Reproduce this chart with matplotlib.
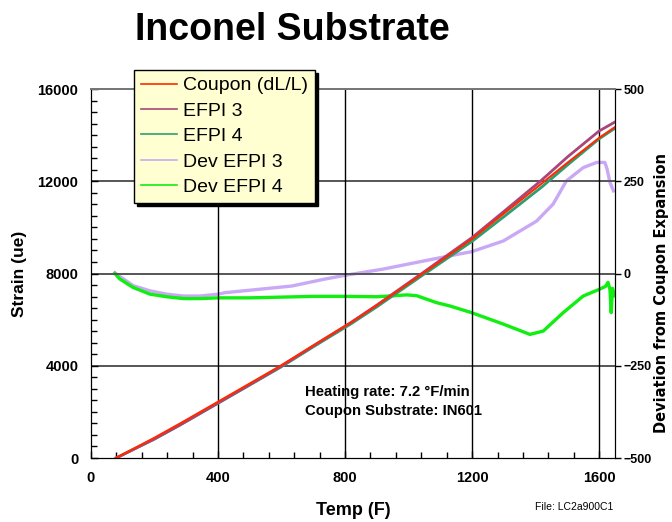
import matplotlib
matplotlib.use("Agg")
import matplotlib.pyplot as plt
from matplotlib.ticker import MultipleLocator

plt.rcParams['font.family'] = ['Liberation Sans', 'DejaVu Sans']

# strain curves (left axis)
temp = [79, 200, 281, 400, 500, 597, 700, 819, 900, 1045, 1200, 1300, 1419, 1500, 1600, 1650]
coupon = [0, 880, 1500, 2440, 3230, 4000, 4880, 5880, 6620, 8000, 9500, 10600, 11900, 12800, 13880, 14350]
efpi3 = [0, 830, 1440, 2385, 3185, 3965, 4860, 5880, 6630, 8035, 9560, 10690, 12050, 13050, 14180, 14570]
efpi4 = [0, 820, 1435, 2375, 3165, 3935, 4820, 5820, 6555, 7935, 9395, 10460, 11745, 12700, 13840, 14300]

# deviation curves (right axis)
temp_d3 = [75, 91, 133, 186, 238, 291, 343, 400, 422, 527, 632, 737, 800, 920, 1025, 1130,
           1198, 1298, 1403, 1455, 1497, 1550, 1592, 1618, 1625, 1634, 1645]
dev3 = [2, -8, -33, -47, -56, -61, -61, -56, -52, -43, -34, -15, -5, 12, 30, 48,
        59, 88, 142, 188, 251, 287, 301, 301, 283, 247, 224]
temp_d4 = [75, 91, 133, 186, 238, 291, 343, 400, 500, 600, 700, 800, 900, 994, 1025, 1088,
           1130, 1198, 1298, 1382, 1424, 1487, 1550, 1600, 1620, 1628, 1634, 1638, 1642, 1648]
dev4 = [0, -15, -38, -56, -63, -68, -68, -66, -66, -64, -62, -62, -63, -58, -60, -79,
        -88, -106, -137, -165, -156, -106, -61, -43, -35, -24, -43, -106, -40, -60]

labels = ['Coupon (dL/L)', 'EFPI 3', 'EFPI 4', 'Dev EFPI 3', 'Dev EFPI 4']
colors = ['#ff2a00', '#a8457a', '#2e9e70', '#c9a9f5', '#11ee11']

fig = plt.figure(figsize=(6.72, 5.22), dpi=100)
ax = fig.add_axes([0.1354, 0.1226, 0.7798, 0.7069])
ax2 = ax.twinx()

l4, = ax2.plot(temp_d3, dev3, color=colors[3], lw=2.4)
l5, = ax2.plot(temp_d4, dev4, color=colors[4], lw=2.4)
l3, = ax.plot(temp, efpi4, color=colors[2], lw=2.0)
l2, = ax.plot(temp, efpi3, color=colors[1], lw=2.0)
l1, = ax.plot(temp, coupon, color=colors[0], lw=1.5)

# strain lines sit on top of the deviation lines
ax.set_zorder(ax2.get_zorder() + 1)
ax.patch.set_visible(False)

ax.set_xlim(0, 1650)
ax.set_ylim(0, 16000)
ax2.set_ylim(-500, 500)

ax.xaxis.set_major_locator(MultipleLocator(400))
ax.xaxis.set_minor_locator(MultipleLocator(80))
ax.yaxis.set_major_locator(MultipleLocator(4000))
ax.yaxis.set_minor_locator(MultipleLocator(500))
ax2.yaxis.set_major_locator(MultipleLocator(250))

ax.tick_params(which='both', direction='in', top=False, right=False, labelsize=10.5, width=1)
ax.tick_params(which='major', length=5)
ax.tick_params(which='minor', length=4)
ax.tick_params(axis='y', pad=9)
ax.tick_params(axis='x', pad=9)
ax2.tick_params(direction='out', length=4, width=1, labelsize=9, pad=2)
for lab in ax.get_xticklabels() + ax.get_yticklabels() + ax2.get_yticklabels():
    lab.set_fontweight('bold')

# grid: grey horizontals, black verticals
for y in [4000, 8000, 12000]:
    ax.axhline(y, color='#555555', lw=1.4, zorder=0.5)
for x in [400, 800, 1200, 1600]:
    ax.axvline(x, color='black', lw=1.0, zorder=0.5)

for s in ['left', 'bottom', 'right']:
    ax.spines[s].set_color('black')
    ax2.spines[s].set_color('black')
ax.spines['top'].set_color('#777777')
ax2.spines['top'].set_color('#777777')
ax.spines['top'].set_linewidth(1.4)
ax2.spines['top'].set_linewidth(1.4)

ax.set_ylabel('Strain (ue)', fontsize=12.5, fontweight='bold')
ax.yaxis.set_label_coords(-0.122, 0.50)
ax.set_xlabel('Temp (F)', fontsize=13, fontweight='bold')
ax.xaxis.set_label_coords(0.50, -0.12)
ax2.set_ylabel('Deviation from Coupon Expansion', fontsize=10.5, fontweight='bold',
               family=['DejaVu Sans'])
ax2.yaxis.set_label_coords(1.074, 0.447)

ax.text(674, 2862, 'Heating rate: 7.2 \u00b0F/min', fontsize=10.7, fontweight='bold', va='center')
ax.text(674, 2038, 'Coupon Substrate: IN601', fontsize=10.7, fontweight='bold', va='center')

fig.text(0.435, 0.942, 'Inconel Substrate', fontsize=27, fontweight='bold', ha='center', va='center')
fig.text(0.796, 0.029, 'File: LC2a900C1', fontsize=7.5, va='center')

leg = fig.legend([l1, l2, l3, l4, l5], labels, loc='upper left', bbox_to_anchor=(0.199, 0.866),
                 fontsize=14, frameon=True, fancybox=False, shadow={'color': 'black', 'alpha': 1},
                 facecolor='#ffffd2', edgecolor='black', framealpha=1, borderaxespad=0,
                 handlelength=1.9, labelspacing=0.40, borderpad=0.35, handletextpad=0.3)
leg.get_frame().set_linewidth(1.0)
for h in leg.legend_handles:
    h.set_linewidth(1.2)

fig.savefig('out.png', dpi=100)
